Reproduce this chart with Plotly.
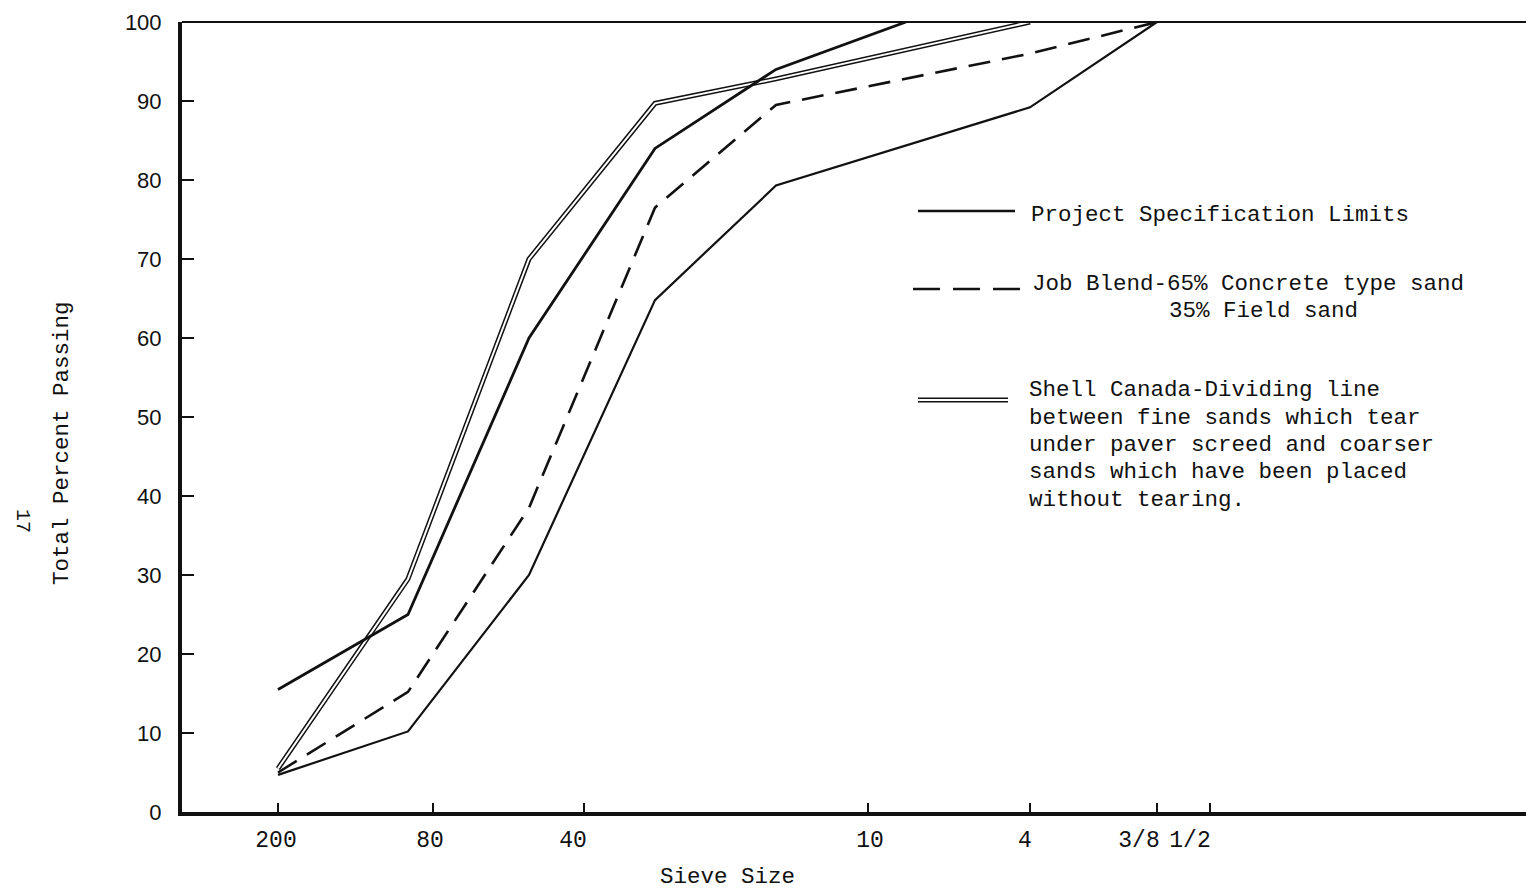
import plotly.graph_objects as go

# ---- data ----
# position of each sieve on the chart's sieve-size scale (horizontal chart units)
SIEVES = ["200", "100", "80", "50", "40", "30", "16", "10", "8", "4", "3/8", "1/2"]
SIEVE_SCALE = [96, 226, 251, 347, 402, 473, 594, 686, 724, 848, 975, 1028]

TICK_SIEVES = ["200", "80", "40", "10", "4", "3/8", "1/2"]
TICK_LABEL_SCALE = [94, 248, 391, 688, 843, 957, 1008]

spec_upper_sieves = ["200", "100", "50", "30", "16", "8"]
spec_upper_pct = [15.5, 25, 60, 84, 94, 100]

spec_lower_sieves = ["200", "100", "50", "30", "16", "4", "3/8"]
spec_lower_pct = [4.7, 10.2, 30, 64.8, 79.3, 89.2, 100]

blend_sieves = ["200", "100", "50", "30", "16", "4", "3/8"]
blend_pct = [5, 15.2, 38.5, 76.5, 89.5, 96, 100]

shell_sieves = ["200", "100", "50", "30", "16", "4"]
shell_pct = [5.5, 29.5, 70, 89.7, 92.8, 100]

Y_TICKS = [0, 10, 20, 30, 40, 50, 60, 70, 80, 90, 100]

pos = dict(zip(SIEVES, SIEVE_SCALE))


def xs(sieves):
    return [pos[s] for s in sieves]


MONO = "Liberation Mono, Courier New, monospace"
SANS = "Liberation Sans, Arial, sans-serif"
INK = "#111111"

fig = go.Figure()

# Shell Canada dividing line (double line: black stroke with white core)
fig.add_trace(go.Scatter(x=xs(shell_sieves), y=shell_pct, mode="lines",
                         line=dict(color=INK, width=5), showlegend=False,
                         hoverinfo="skip"))
fig.add_trace(go.Scatter(x=xs(shell_sieves), y=shell_pct, mode="lines",
                         line=dict(color="white", width=2), showlegend=False,
                         name="Shell Canada dividing line"))
# Job blend (dashed)
fig.add_trace(go.Scatter(x=xs(blend_sieves), y=blend_pct, mode="lines",
                         line=dict(color=INK, width=2.6, dash="22px,12px"),
                         showlegend=False, name="Job Blend"))
# Project specification limits
fig.add_trace(go.Scatter(x=xs(spec_upper_sieves), y=spec_upper_pct, mode="lines",
                         line=dict(color=INK, width=2.8), showlegend=False,
                         name="Spec upper"))
fig.add_trace(go.Scatter(x=xs(spec_lower_sieves), y=spec_lower_pct, mode="lines",
                         line=dict(color=INK, width=2.2), showlegend=False,
                         name="Spec lower"))
# invisible trace so the tick-label axis is drawn
fig.add_trace(go.Scatter(x=[None], y=[None], xaxis="x2", mode="lines",
                         showlegend=False, hoverinfo="skip"))

W, H = 1526, 890
L, R, T, B = 182, 0, 22, 78
pw, ph = W - L - R, H - T - B


def px(xp):
    return (xp - L) / pw


def py(yp):
    return (H - B - yp) / ph


shapes = []
# top border
shapes.append(dict(type="line", xref="paper", yref="paper", x0=0, x1=1, y0=1, y1=1,
                   line=dict(color=INK, width=2)))
# legend samples
shapes.append(dict(type="line", xref="paper", yref="paper", x0=px(918), x1=px(1015),
                   y0=py(211), y1=py(211), line=dict(color=INK, width=2.5)))
shapes.append(dict(type="line", xref="paper", yref="paper", x0=px(913), x1=px(1022),
                   y0=py(289), y1=py(289), line=dict(color=INK, width=2.5, dash="27px,13px")))
shapes.append(dict(type="line", xref="paper", yref="paper", x0=px(918), x1=px(1008),
                   y0=py(400), y1=py(400), line=dict(color=INK, width=5)))
shapes.append(dict(type="line", xref="paper", yref="paper", x0=px(918), x1=px(1008),
                   y0=py(400), y1=py(400), line=dict(color="white", width=2)))

annotations = []


def note(text, xp, yp, size=22.5, anchor="left", angle=0, font=MONO):
    annotations.append(dict(text=text, x=px(xp), y=py(yp), xref="paper", yref="paper",
                            xanchor=anchor, yanchor="middle", showarrow=False,
                            textangle=angle, borderpad=0,
                            font=dict(family=font, size=size, color=INK)))


note("Project Specification Limits", 1030, 215)
note("Job Blend-65% Concrete type sand", 1031, 284)
note("35% Field sand", 1168, 311)
shell_lines = ["Shell Canada-Dividing line",
               "between fine sands which tear",
               "under paver screed and coarser",
               "sands which have been placed",
               "without tearing."]
for i, t in enumerate(shell_lines):
    note(t, 1028, 390 + i * 27.5)

note("Sieve Size", 727, 877, anchor="center")
note("Total Percent Passing", 62, 443, anchor="center", angle=-90)
note("17", 23, 521, anchor="center", angle=90, size=20)

fig.update_layout(
    width=W, height=H,
    margin=dict(l=L, r=R, t=T, b=B, pad=0, autoexpand=False),
    plot_bgcolor="white", paper_bgcolor="white",
    showlegend=False,
    shapes=shapes,
    annotations=annotations,
    xaxis=dict(range=[0, pw], showgrid=False, zeroline=False,
               showline=True, linecolor=INK, linewidth=4,
               ticks="inside", ticklen=9, tickwidth=1.5, tickcolor=INK,
               tickvals=[pos[s] for s in TICK_SIEVES], showticklabels=False),
    xaxis2=dict(range=[0, pw], overlaying="x", anchor="y", side="bottom",
                showgrid=False, zeroline=False, showline=False, ticks="",
                tickvals=TICK_LABEL_SCALE, ticktext=TICK_SIEVES,
                ticklabelstandoff=11,
                tickfont=dict(family=MONO, size=23, color=INK)),
    yaxis=dict(range=[0, 100], showgrid=False, zeroline=False,
               showline=True, linecolor=INK, linewidth=4,
               ticks="inside", ticklen=12, tickwidth=1.5, tickcolor=INK,
               tickvals=Y_TICKS, ticklabelstandoff=12,
               tickfont=dict(family=SANS, size=22, color=INK)),
)

fig.write_html("out.html",
               config={"displayModeBar": False},
               post_script="document.body.style.margin='0';document.body.style.overflow='hidden';")
